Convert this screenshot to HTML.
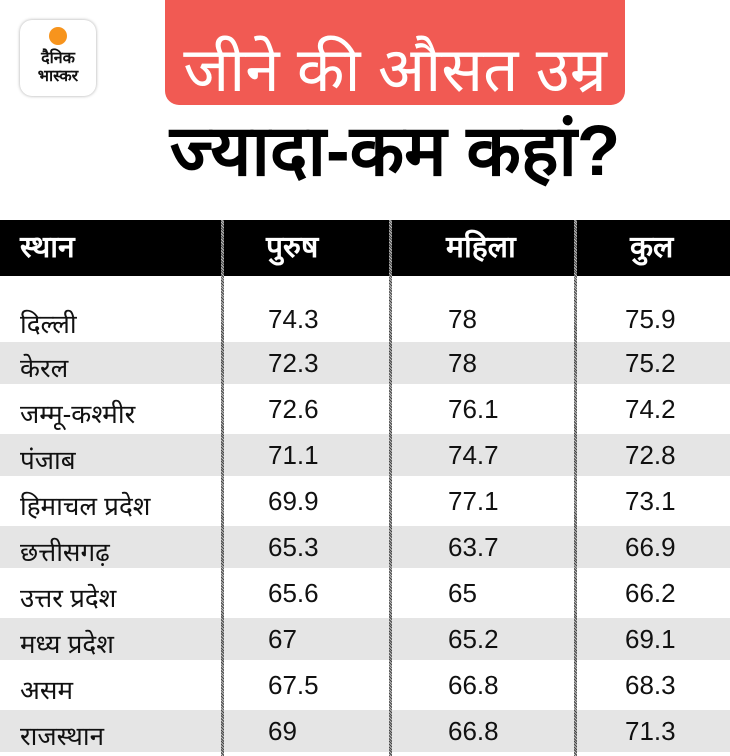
<!DOCTYPE html>
<html><head><meta charset="utf-8"><style>
*{margin:0;padding:0;box-sizing:border-box}
body{width:730px;height:756px;background:#fff;position:relative;overflow:hidden;font-family:"Liberation Sans","Noto Sans CJK SC",sans-serif}
.logo{position:absolute;left:20px;top:20px;width:76px;height:76px;border-radius:12px;background:#fff;box-shadow:0 0 3px rgba(0,0,0,.35)}
.dot{position:absolute;left:29px;top:7px;width:18px;height:18px;border-radius:50%;background:#f7941d}
.lt{position:absolute;left:0;width:76px;text-align:center;font-weight:bold;font-size:16px;line-height:18px;color:#111}
.red{position:absolute;left:165px;top:0;width:460px;height:105px;background:#f15a53;border-radius:0 0 14px 14px}
.t1{position:absolute;left:140px;width:510px;top:31px;text-align:center;color:#fff;font-size:62px;line-height:80px;white-space:nowrap}
.t2{position:absolute;left:120px;width:550px;top:104px;text-align:center;color:#000;font-size:71px;font-weight:bold;line-height:96px;white-space:nowrap}
.hdr{position:absolute;left:0;top:220px;width:730px;height:56px;background:#000}
.row{position:absolute;left:0;width:730px}
.g{background:#e5e5e5}
.c{position:absolute;font-size:26px;color:#111;line-height:30px}
.d{margin-top:5px}
.h{color:#fff;font-weight:bold;font-size:30px;line-height:36px}
.sep{position:absolute;top:220px;width:3px;height:536px;background:repeating-linear-gradient(45deg,#444 0 1px,#bbb 1px 2px)}
</style></head><body>
<div class="logo"><div class="dot"></div><div class="lt" style="top:30px">दैनिक</div><div class="lt" style="top:48px">भास्कर</div></div>
<div class="red"></div>
<div class="t1">जीने की औसत उम्र</div>
<div class="t2">ज्यादा-कम कहां?</div>
<div class="hdr"></div>
<div class="row g" style="top:342px;height:42px"></div>
<div class="row g" style="top:434px;height:42px"></div>
<div class="row g" style="top:526px;height:42px"></div>
<div class="row g" style="top:618px;height:42px"></div>
<div class="row g" style="top:710px;height:42px"></div>
<div class="c h" style="left:20px;top:230px">स्थान</div>
<div class="c h" style="left:266px;top:230px">पुरुष</div>
<div class="c h" style="left:446px;top:230px">महिला</div>
<div class="c h" style="left:630px;top:230px">कुल</div>
<div class="sep" style="left:221px"></div>
<div class="sep" style="left:389px"></div>
<div class="sep" style="left:574px"></div>
<div class="c d" style="left:20px;top:304px">दिल्ली</div><div class="c" style="left:268px;top:304px">74.3</div><div class="c" style="left:448px;top:304px">78</div><div class="c" style="left:625px;top:304px">75.9</div>
<div class="c d" style="left:20px;top:348px">केरल</div><div class="c" style="left:268px;top:348px">72.3</div><div class="c" style="left:448px;top:348px">78</div><div class="c" style="left:625px;top:348px">75.2</div>
<div class="c d" style="left:20px;top:394px">जम्मू-कश्मीर</div><div class="c" style="left:268px;top:394px">72.6</div><div class="c" style="left:448px;top:394px">76.1</div><div class="c" style="left:625px;top:394px">74.2</div>
<div class="c d" style="left:20px;top:440px">पंजाब</div><div class="c" style="left:268px;top:440px">71.1</div><div class="c" style="left:448px;top:440px">74.7</div><div class="c" style="left:625px;top:440px">72.8</div>
<div class="c d" style="left:20px;top:486px">हिमाचल प्रदेश</div><div class="c" style="left:268px;top:486px">69.9</div><div class="c" style="left:448px;top:486px">77.1</div><div class="c" style="left:625px;top:486px">73.1</div>
<div class="c d" style="left:20px;top:532px">छत्तीसगढ़</div><div class="c" style="left:268px;top:532px">65.3</div><div class="c" style="left:448px;top:532px">63.7</div><div class="c" style="left:625px;top:532px">66.9</div>
<div class="c d" style="left:20px;top:578px">उत्तर प्रदेश</div><div class="c" style="left:268px;top:578px">65.6</div><div class="c" style="left:448px;top:578px">65</div><div class="c" style="left:625px;top:578px">66.2</div>
<div class="c d" style="left:20px;top:624px">मध्य प्रदेश</div><div class="c" style="left:268px;top:624px">67</div><div class="c" style="left:448px;top:624px">65.2</div><div class="c" style="left:625px;top:624px">69.1</div>
<div class="c d" style="left:20px;top:670px">असम</div><div class="c" style="left:268px;top:670px">67.5</div><div class="c" style="left:448px;top:670px">66.8</div><div class="c" style="left:625px;top:670px">68.3</div>
<div class="c d" style="left:20px;top:716px">राजस्थान</div><div class="c" style="left:268px;top:716px">69</div><div class="c" style="left:448px;top:716px">66.8</div><div class="c" style="left:625px;top:716px">71.3</div>
</body></html>
